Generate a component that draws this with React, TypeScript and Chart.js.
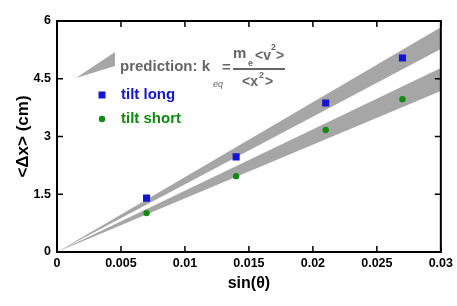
import React, { useEffect, useRef } from "react";
import { Chart, registerables } from "chart.js";

Chart.register(...registerables);

// ---- data ----
const sinTheta = [0.007, 0.014, 0.021, 0.027];
const tiltLong = [1.4, 2.47, 3.87, 5.04];
const tiltShort = [1.01, 1.97, 3.17, 3.97];
const bandX = [0, 0.03];
const longBandUpper = [0, 5.84];
const longBandLower = [0, 5.27];
const shortBandUpper = [0, 4.78];
const shortBandLower = [0, 4.18];
const xTicks = [0, 0.005, 0.01, 0.015, 0.02, 0.025, 0.03];
const xTickLabels = ["0", "0.005", "0.01", "0.015", "0.02", "0.025", "0.03"];
const yTicks = [0, 1.5, 3, 4.5, 6];
const yTickLabels = ["0", "1.5", "3", "4.5", "6"];

const BLUE = "#1414d2";
const GREEN = "#108a10";
const BAND = "#a6a6a6";
const GRAY_TEXT = "#666666";
const FONT = "'Liberation Sans', Arial, sans-serif";

const pts = (xs: number[], ys: number[]) => xs.map((x, i) => ({ x, y: ys[i] }));

const framePlugin = {
  id: "frameTicks",
  afterDatasetsDraw(chart: any) {
    const { ctx, chartArea: a, scales } = chart;
    ctx.save();
    ctx.strokeStyle = "#000";
    ctx.lineWidth = 1.5;
    const tl = 6;
    ctx.beginPath();
    for (const v of xTicks) {
      const px = scales.x.getPixelForValue(v);
      ctx.moveTo(px, a.bottom);
      ctx.lineTo(px, a.bottom - tl);
      ctx.moveTo(px, a.top);
      ctx.lineTo(px, a.top + tl);
    }
    for (const v of yTicks) {
      const py = scales.y.getPixelForValue(v);
      ctx.moveTo(a.left, py);
      ctx.lineTo(a.left + tl, py);
      ctx.moveTo(a.right, py);
      ctx.lineTo(a.right - tl, py);
    }
    ctx.stroke();
    ctx.lineWidth = 2;
    ctx.strokeRect(a.left, a.top, a.right - a.left, a.bottom - a.top);
    ctx.restore();
  },
};

const legendPlugin = {
  id: "customLegend",
  afterDraw(chart: any) {
    const ctx = chart.ctx;
    ctx.save();
    // wedge icon
    ctx.fillStyle = BAND;
    ctx.beginPath();
    ctx.moveTo(76, 78);
    ctx.lineTo(115, 52);
    ctx.lineTo(115, 66);
    ctx.closePath();
    ctx.fill();

    ctx.textBaseline = "middle";
    ctx.textAlign = "left";
    ctx.fillStyle = GRAY_TEXT;
    ctx.font = `bold 15px ${FONT}`;
    ctx.fillText("prediction: k", 120, 67);
    ctx.font = `italic 9px ${FONT}`;
    ctx.fillText("eq", 213, 84);
    ctx.font = `bold 15px ${FONT}`;
    ctx.fillText("=", 222, 68);
    // numerator
    ctx.font = `bold 15px ${FONT}`;
    ctx.fillText("m", 233, 54);
    ctx.font = `bold 9px ${FONT}`;
    ctx.fillText("e", 248, 64);
    ctx.font = `bold 14px ${FONT}`;
    ctx.fillText("<v", 255, 56);
    ctx.font = `bold 9px ${FONT}`;
    ctx.fillText("2", 271, 48);
    ctx.font = `bold 14px ${FONT}`;
    ctx.fillText(">", 276, 56);
    // bar
    ctx.strokeStyle = GRAY_TEXT;
    ctx.lineWidth = 2;
    ctx.beginPath();
    ctx.moveTo(233, 69);
    ctx.lineTo(285, 69);
    ctx.stroke();
    // denominator
    ctx.font = `bold 14px ${FONT}`;
    ctx.fillText("<x", 242, 82);
    ctx.font = `bold 9px ${FONT}`;
    ctx.fillText("2", 259, 76);
    ctx.font = `bold 14px ${FONT}`;
    ctx.fillText(">", 265, 82);

    // tilt long
    ctx.fillStyle = BLUE;
    ctx.fillRect(98.5, 91.5, 7, 7);
    ctx.font = `bold 15px ${FONT}`;
    ctx.fillText("tilt long", 121, 95);
    // tilt short
    ctx.fillStyle = GREEN;
    ctx.beginPath();
    ctx.arc(102, 119, 3.2, 0, Math.PI * 2);
    ctx.fill();
    ctx.fillText("tilt short", 121, 119);
    ctx.restore();
  },
};

export default function App() {
  const ref = useRef<HTMLCanvasElement | null>(null);
  useEffect(() => {
    if (!ref.current) return;
    const chart = new Chart(ref.current, {
      type: "scatter",
      data: {
        datasets: [
          {
            label: "tilt long",
            data: pts(sinTheta, tiltLong),
            pointStyle: "rect",
            pointRadius: 5,
            backgroundColor: BLUE,
            borderWidth: 0,
          } as any,
          {
            label: "tilt short",
            data: pts(sinTheta, tiltShort),
            pointStyle: "circle",
            pointRadius: 3.2,
            backgroundColor: GREEN,
            borderWidth: 0,
          } as any,
          {
            type: "line",
            label: "long upper",
            data: pts(bandX, longBandUpper),
            fill: "+1",
            backgroundColor: BAND,
            borderWidth: 0,
            pointRadius: 0,
          } as any,
          {
            type: "line",
            label: "long lower",
            data: pts(bandX, longBandLower),
            fill: false,
            borderWidth: 0,
            pointRadius: 0,
          } as any,
          {
            type: "line",
            label: "short upper",
            data: pts(bandX, shortBandUpper),
            fill: "+1",
            backgroundColor: BAND,
            borderWidth: 0,
            pointRadius: 0,
          } as any,
          {
            type: "line",
            label: "short lower",
            data: pts(bandX, shortBandLower),
            fill: false,
            borderWidth: 0,
            pointRadius: 0,
          } as any,
        ],
      },
      options: {
        animation: false,
        responsive: false,
        layout: { padding: { top: 21, right: 13, left: 0, bottom: 0 } },
        plugins: { legend: { display: false }, tooltip: { enabled: false } },
        scales: {
          x: {
            type: "linear",
            min: 0,
            max: 0.03,
            grid: { display: false, drawTicks: false },
            border: { display: false },
            afterBuildTicks: (s: any) => {
              s.ticks = xTicks.map((v) => ({ value: v }));
            },
            afterFit: (s: any) => {
              s.height = 54;
            },
            ticks: {
              autoSkip: false,
              maxRotation: 0,
              padding: 4,
              color: "#000",
              font: { family: FONT, size: 12.5, weight: "bold" },
              callback: (v: any) => xTickLabels[xTicks.indexOf(Number(v))] ?? "",
            },
            title: {
              display: true,
              text: "sin(θ)",
              color: "#000",
              font: { family: FONT, size: 16, weight: "bold" },
              padding: { top: 0, bottom: 13 },
            },
          },
          y: {
            type: "linear",
            min: 0,
            max: 6,
            grid: { display: false, drawTicks: false },
            border: { display: false },
            afterBuildTicks: (s: any) => {
              s.ticks = yTicks.map((v) => ({ value: v }));
            },
            afterFit: (s: any) => {
              s.width = 57;
            },
            ticks: {
              autoSkip: false,
              padding: 6,
              color: "#000",
              font: { family: FONT, size: 12.5, weight: "bold" },
              callback: (v: any) => yTickLabels[yTicks.indexOf(Number(v))] ?? "",
            },
            title: {
              display: true,
              text: "<Δx> (cm)",
              color: "#000",
              font: { family: FONT, size: 17, weight: "bold" },
              padding: { top: 13, bottom: 0 },
            },
          },
        },
      } as any,
      plugins: [framePlugin, legendPlugin],
    });
    return () => chart.destroy();
  }, []);
  return (
    <div style={{ position: "absolute", left: 0, top: 0, width: 457, height: 306, background: "#fff" }}>
      <canvas ref={ref} width={457} height={306} style={{ display: "block" }} />
    </div>
  );
}
